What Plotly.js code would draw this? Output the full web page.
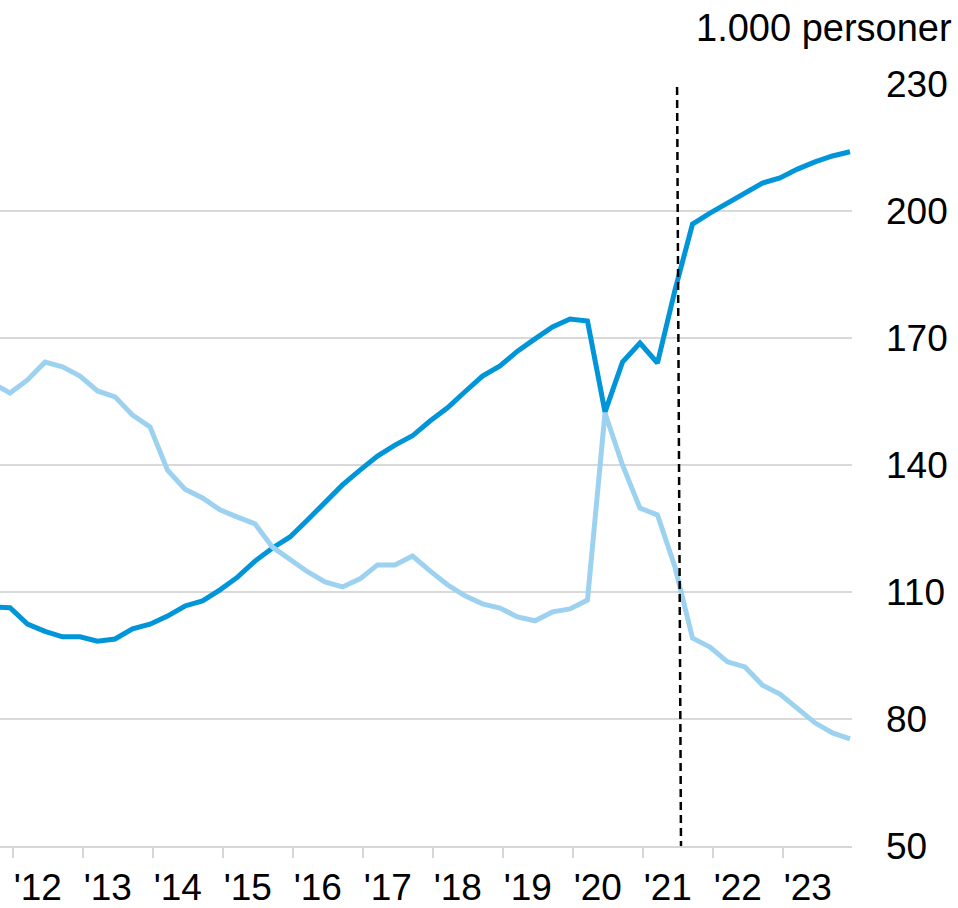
<!DOCTYPE html>
<html>
<head>
<meta charset="utf-8">
<script src="https://cdn.plot.ly/plotly-3.0.1.min.js"></script>
<style>
  html, body { margin: 0; padding: 0; background: #fff; }
  #chart { width: 958px; height: 908px; }
</style>
</head>
<body>
<div id="chart"></div>
<script>
// Quarterly observations, first one in Q4 2011
const firstQuarter = 2011.75;
const quarterStep = 0.25;

const seriesDark = [106.5, 106.3, 102.4, 100.7, 99.4, 99.4, 98.4, 98.9, 101.3, 102.4,
  104.3, 106.7, 107.9, 110.5, 113.5, 117.3, 120.4, 123.0, 127.0, 131.3,
  135.3, 138.8, 142.1, 144.7, 146.9, 150.4, 153.5, 157.3, 161.0, 163.4,
  166.9, 169.8, 172.6, 174.5, 174.0, 152.5, 164.3, 168.8, 164.1, 181.3,
  196.9, 199.5, 201.9, 204.5, 206.6, 207.8, 209.9, 211.6, 213.0, 214.0];

const seriesLight = [159.3, 157.0, 160.1, 164.3, 163.2, 161.0, 157.5, 156.1, 151.8, 149.0,
  138.8, 134.3, 132.2, 129.4, 127.7, 126.1, 120.6, 117.6, 114.8, 112.4,
  111.2, 113.1, 116.4, 116.4, 118.5, 115.0, 111.7, 109.1, 107.2, 106.2,
  104.1, 103.2, 105.3, 106.0, 108.1, 152.3, 140.0, 129.8, 128.2, 115.9,
  99.1, 97.0, 93.5, 92.3, 88.0, 85.9, 82.6, 79.1, 76.7, 75.3];

const tickYears = [2012, 2013, 2014, 2015, 2016, 2017, 2018, 2019, 2020, 2021, 2022, 2023, 2024];
const tickLabels = ["'12", "'13", "'14", "'15", "'16", "'17", "'18", "'19", "'20", "'21", "'22", "'23", ""];
const yTicks = [50, 80, 110, 140, 170, 200, 230];
const unitLabel = "1.000 personer";
const markerLineX = [2021.53, 2021.586]; // top, bottom

const xDates = seriesDark.map((_, i) => firstQuarter + i * quarterStep);

const font = "Liberation Sans, Arial, Helvetica, sans-serif";

const traces = [
  {
    x: xDates, y: seriesDark, type: 'scatter', mode: 'lines',
    line: { color: '#0095d8', width: 5 }, hoverinfo: 'skip'
  },
  {
    x: xDates, y: seriesLight, type: 'scatter', mode: 'lines',
    line: { color: '#9cd2f0', width: 5 }, hoverinfo: 'skip'
  }
];

const layout = {
  width: 958, height: 908,
  margin: { l: 0, r: 106, t: 84, b: 62 },
  paper_bgcolor: '#fff', plot_bgcolor: '#fff',
  showlegend: false,
  font: { family: font, size: 37, color: '#000' },
  xaxis: {
    range: [2011.857, 2024.029],
    tickmode: 'array',
    tickvals: tickYears.map(y => y + 0.04),
    ticktext: tickLabels,
    ticks: 'outside', ticklen: 10, tickwidth: 2, tickcolor: '#d6d6d6',
    showline: true, linecolor: '#d6d6d6', linewidth: 2,
    showgrid: false, zeroline: false,
    ticklabelshift: 25,
    ticklabelstandoff: -2,
    tickfont: { family: font, size: 37, color: '#000' }
  },
  yaxis: {
    side: 'right',
    range: [50, 230],
    tickmode: 'array',
    tickvals: yTicks,
    ticktext: yTicks.map(String),
    showgrid: true, gridcolor: '#d9d9d9', gridwidth: 2,
    zeroline: false, showline: false, ticks: '',
    ticklabelstandoff: 33,
    tickfont: { family: font, size: 37, color: '#000' }
  },
  shapes: [
    {
      type: 'line', xref: 'x', yref: 'y',
      x0: markerLineX[0], y0: 229.3, x1: markerLineX[1], y1: 50,
      line: { color: '#000', width: 2.5, dash: '8px,5px' }
    }
  ],
  annotations: [
    {
      text: unitLabel, xref: 'paper', yref: 'paper',
      x: 1.12, y: 1.073, xanchor: 'right', yanchor: 'middle',
      showarrow: false, font: { family: font, size: 38, color: '#000' }
    }
  ]
};

Plotly.newPlot('chart', traces, layout, { displayModeBar: false, staticPlot: true });
</script>
</body>
</html>
